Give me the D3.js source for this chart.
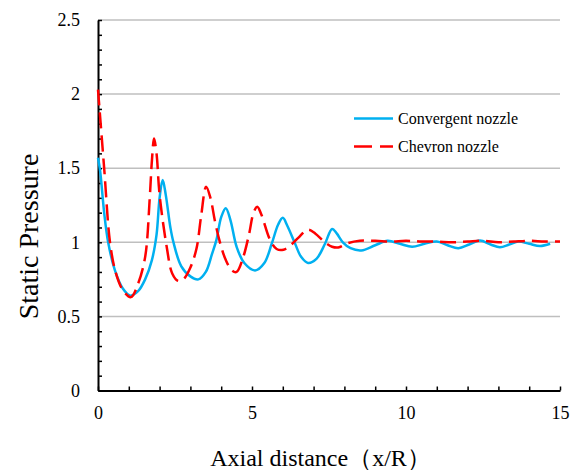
<!doctype html>
<html>
<head>
<meta charset="utf-8"/>
<title>Static Pressure</title>
<script src="https://cdnjs.cloudflare.com/ajax/libs/d3/7.8.5/d3.min.js"></script>
<style>
  body { margin: 0; background: #fff; }
  svg { font-family: "Times New Roman", "Liberation Serif", serif; }
</style>
</head>
<body>
<svg id="chart" width="580" height="473"></svg>
<script>
// convergent nozzle (solid blue)
var convX = [0, 0.07, 0.2, 0.33, 0.55, 0.8, 1.05, 1.3, 1.53, 1.75, 1.9, 2.0, 2.1, 2.2, 2.35, 2.45, 2.7, 3.0, 3.26, 3.5, 3.7, 3.85, 4.0, 4.15, 4.3, 4.5, 4.75, 5.1, 5.4, 5.64, 5.85, 6.0, 6.15, 6.4, 6.6, 6.82, 7.1, 7.37, 7.6, 7.75, 7.95, 8.2, 8.55, 9.0, 9.4, 9.8, 10.2, 10.6, 11.0, 11.35, 11.7, 12.05, 12.4, 12.75, 13.05, 13.35, 13.65, 14.0, 14.35, 14.68];
var convY = [1.57, 1.48, 1.2, 1.0, 0.81, 0.69, 0.64, 0.67, 0.75, 0.88, 1.05, 1.3, 1.42, 1.32, 1.1, 1.0, 0.84, 0.77, 0.75, 0.8, 0.92, 1.02, 1.17, 1.23, 1.15, 0.97, 0.86, 0.81, 0.86, 0.99, 1.12, 1.165, 1.11, 0.99, 0.9, 0.86, 0.89, 0.99, 1.09, 1.06, 1.0, 0.96, 0.945, 0.98, 1.01, 0.99, 0.97, 0.99, 1.005, 0.98, 0.96, 0.985, 1.012, 0.985, 0.967, 0.985, 1.005, 0.99, 0.975, 0.99];

// chevron nozzle (dashed red)
var chevX = [0, 0.2, 0.39, 0.57, 0.8, 1.07, 1.3, 1.53, 1.68, 1.75, 1.82, 1.9, 2.0, 2.23, 2.41, 2.6, 2.77, 3.0, 3.2, 3.35, 3.51, 3.65, 3.8, 3.96, 4.15, 4.35, 4.5, 4.7, 4.9, 5.05, 5.17, 5.3, 5.58, 5.8, 6.02, 6.25, 6.5, 6.75, 6.85, 7.05, 7.37, 7.6, 7.8, 8.13, 8.5, 9.0, 9.5, 10.0, 10.5, 11.0, 11.5, 12.0, 12.5, 13.0, 13.5, 14.0, 14.5, 15.0];
var chevY = [2.03, 1.5, 1.0, 0.8, 0.68, 0.63, 0.72, 0.9, 1.3, 1.55, 1.7, 1.6, 1.32, 0.97, 0.79, 0.74, 0.75, 0.83, 0.96, 1.18, 1.375, 1.3, 1.14, 1.0, 0.88, 0.81, 0.8, 0.89, 1.05, 1.2, 1.24, 1.19, 1.02, 0.955, 0.95, 0.98, 1.03, 1.08, 1.085, 1.06, 1.0, 0.97, 0.965, 0.995, 1.01, 1.01, 1.005, 1.01, 1.005, 1.005, 1.0, 1.005, 1.01, 1.0, 1.005, 1.01, 1.005, 1.005];

var xTickLabels = [0, 5, 10, 15];
var yTickLabels = [0, 0.5, 1, 1.5, 2, 2.5];
var seriesNames = ["Convergent nozzle", "Chevron nozzle"];

var svg = d3.select("#chart");
var plotLeft = 98, plotRight = 560, plotTop = 20, plotBottom = 390.5;

var xScale = d3.scaleLinear().domain([0, 15]).range([plotLeft, plotRight]);
var yScale = d3.scaleLinear().domain([0, 2.5]).range([plotBottom, plotTop]);

// gridlines
svg.append("g").selectAll("line")
  .data(yTickLabels.filter(function(d){ return d > 0; })).enter()
  .append("line")
  .attr("x1", plotLeft).attr("x2", plotRight)
  .attr("y1", function(d){ return yScale(d); })
  .attr("y2", function(d){ return yScale(d); })
  .style("stroke", "#bfbfbf").style("stroke-width", 1.5);

var yAxis = d3.axisLeft(yScale)
  .tickValues(d3.range(0, 26).map(function(i){ return i / 10; }))
  .tickFormat(function(d){ var v = +d.toFixed(1); return yTickLabels.indexOf(v) >= 0 ? String(v) : ""; })
  .tickSizeInner(-4).tickSizeOuter(0).tickPadding(18);

var xAxis = d3.axisBottom(xScale)
  .tickValues(d3.range(0, 16))
  .tickFormat(function(d){ return xTickLabels.indexOf(d) >= 0 ? String(d) : ""; })
  .tickSizeInner(-4).tickSizeOuter(0).tickPadding(16);

var yG = svg.append("g").attr("transform", "translate(" + plotLeft + ",0)").call(yAxis);
var xG = svg.append("g").attr("transform", "translate(0," + plotBottom + ")").call(xAxis);

[xG, yG].forEach(function(g){
  g.select(".domain").style("stroke", "#000").style("stroke-width", 2);
  g.selectAll(".tick line").style("stroke", "#000").style("stroke-width", 1.5);
  g.selectAll("text").style("font-family", "'Times New Roman', 'Liberation Serif', serif")
    .style("font-size", "18px").style("fill", "#000");
});

var line = d3.line()
  .x(function(d){ return xScale(d[0]); })
  .y(function(d){ return yScale(d[1]); })
  .curve(d3.curveCatmullRom.alpha(0.5));

svg.append("path")
  .datum(d3.zip(convX, convY))
  .attr("d", line)
  .style("fill", "none").style("stroke", "#00b0f0").style("stroke-width", 2.5);

svg.append("path")
  .datum(d3.zip(chevX, chevY))
  .attr("d", line)
  .style("fill", "none").style("stroke", "#ff0000").style("stroke-width", 2.5)
  .style("stroke-dasharray", "16,7");

// legend
var legend = svg.append("g");
var colors = ["#00b0f0", "#ff0000"];
var dashes = ["none", "18,8"];
seriesNames.forEach(function(name, i){
  var y = 118.5 + i * 28;
  legend.append("line")
    .attr("x1", 354).attr("x2", 393).attr("y1", y).attr("y2", y)
    .style("stroke", colors[i]).style("stroke-width", 2.5)
    .style("stroke-dasharray", dashes[i]);
  legend.append("text")
    .attr("x", 398).attr("y", y + 5)
    .style("font-size", "16px").style("fill", "#000")
    .text(name);
});

// axis titles
svg.append("text")
  .attr("transform", "translate(38,236.5) rotate(-90)")
  .attr("text-anchor", "middle")
  .style("font-size", "28px").style("fill", "#000")
  .text("Static Pressure");

svg.append("text")
  .attr("x", 320.5).attr("y", 466)
  .attr("text-anchor", "middle")
  .style("font-size", "24px").style("fill", "#000")
  .text("Axial distance（x/R）");
</script>
</body>
</html>
